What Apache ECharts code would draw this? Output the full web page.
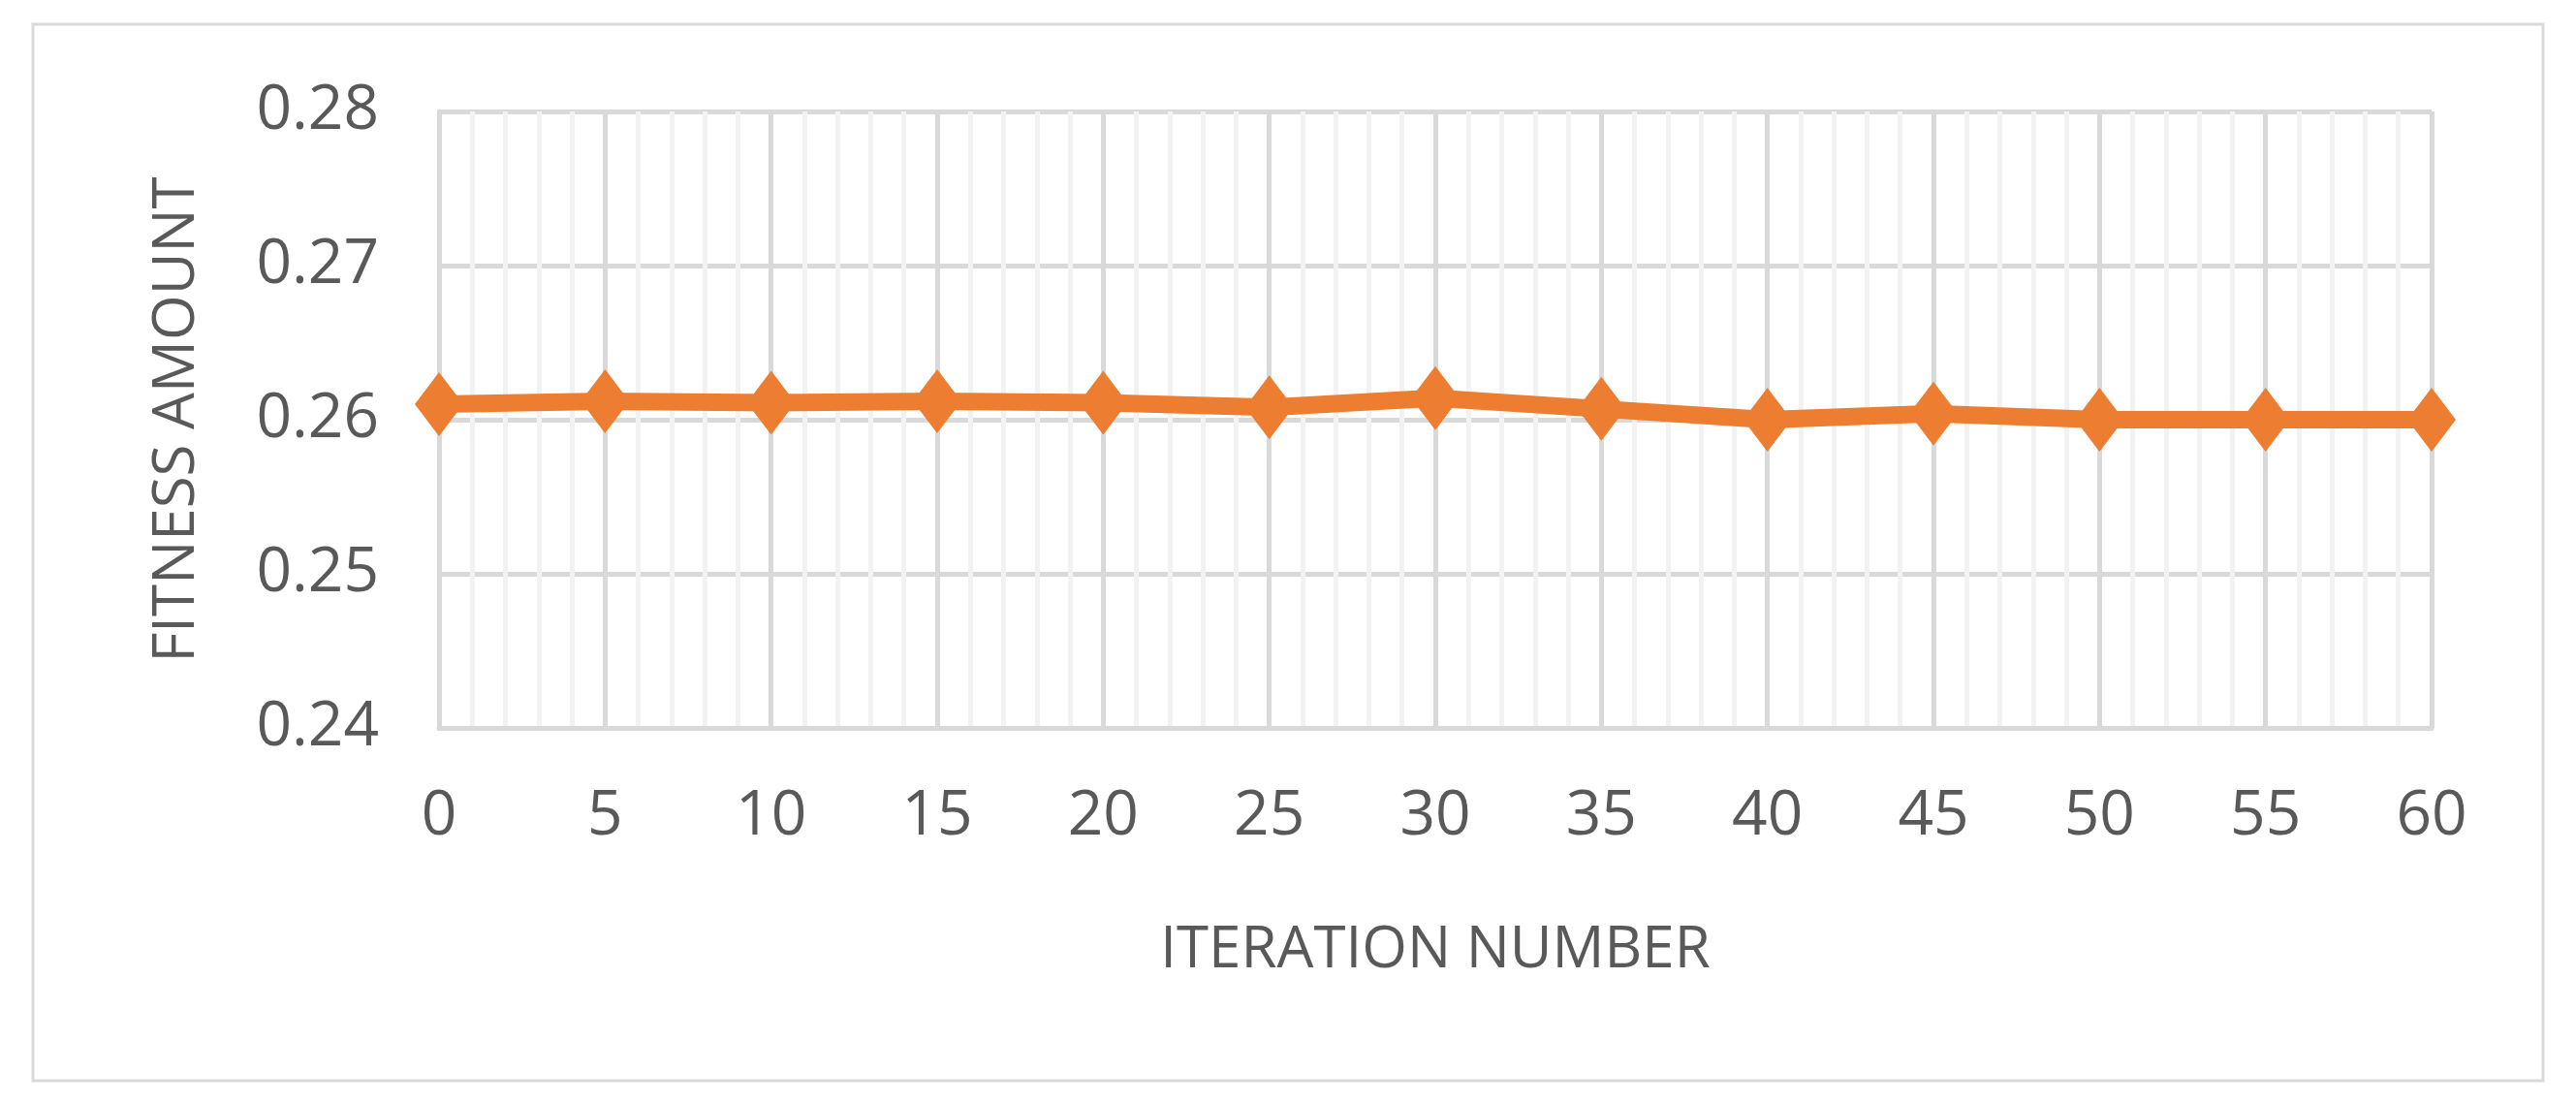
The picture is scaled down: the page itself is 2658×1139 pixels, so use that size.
<!DOCTYPE html>
<html><head><meta charset="utf-8">
<script src="https://cdn.jsdelivr.net/npm/echarts@6/dist/echarts.min.js"></script>
<style>html,body{margin:0;padding:0;background:#fff}#c{width:2658px;height:1139px}</style>
</head><body><div id="c"></div>
<script>
const iterations = [0,5,10,15,20,25,30,35,40,45,50,55,60];
const fitness = [0.2610,0.2612,0.2611,0.2612,0.2611,0.2608,0.2614,0.2607,0.2600,0.2604,0.2600,0.2600,0.2600];
const xTitle = 'ITERATION NUMBER';
const yTitle = 'FITNESS AMOUNT';
const chart = echarts.init(document.getElementById('c'));
const txt = '#595959', major = '#D9D9D9', minor = '#F2F2F2';
chart.setOption({
  animation:false,
  graphic:[{type:'rect',shape:{x:34,y:25,width:2590,height:1090},style:{fill:null,stroke:'#D9D9D9',lineWidth:3}}],
  grid:{left:453,right:149,top:115,bottom:388},
  xAxis:{type:'value',min:0,max:60,interval:5,
    name:xTitle,nameLocation:'middle',nameGap:200,
    nameTextStyle:{color:txt,fontSize:60,fontFamily:'Open Sans'},
    axisLine:{show:true,lineStyle:{color:major,width:5}},axisTick:{show:false},
    axisLabel:{color:txt,fontSize:64,fontFamily:'Open Sans',margin:60},
    splitLine:{show:true,lineStyle:{color:major,width:5}},
    minorTick:{show:false,splitNumber:5},
    minorSplitLine:{show:true,lineStyle:{color:minor,width:5}}},
  yAxis:{type:'value',min:0.24,max:0.28,interval:0.01,
    name:yTitle,nameLocation:'middle',nameGap:240,
    nameTextStyle:{color:txt,fontSize:60,fontFamily:'Open Sans'},
    axisLine:{show:true,lineStyle:{color:major,width:5}},axisTick:{show:false},
    axisLabel:{color:txt,fontSize:64,fontFamily:'Open Sans',margin:62,formatter:v=>v.toFixed(2)},
    splitLine:{show:true,lineStyle:{color:major,width:5}}},
  series:[{type:'line',data:iterations.map((x,i)=>[x,fitness[i]]),
    symbol:'diamond',symbolSize:[50,66],
    itemStyle:{color:'#ED7D31'},lineStyle:{color:'#ED7D31',width:18}}]
});
</script></body></html>
